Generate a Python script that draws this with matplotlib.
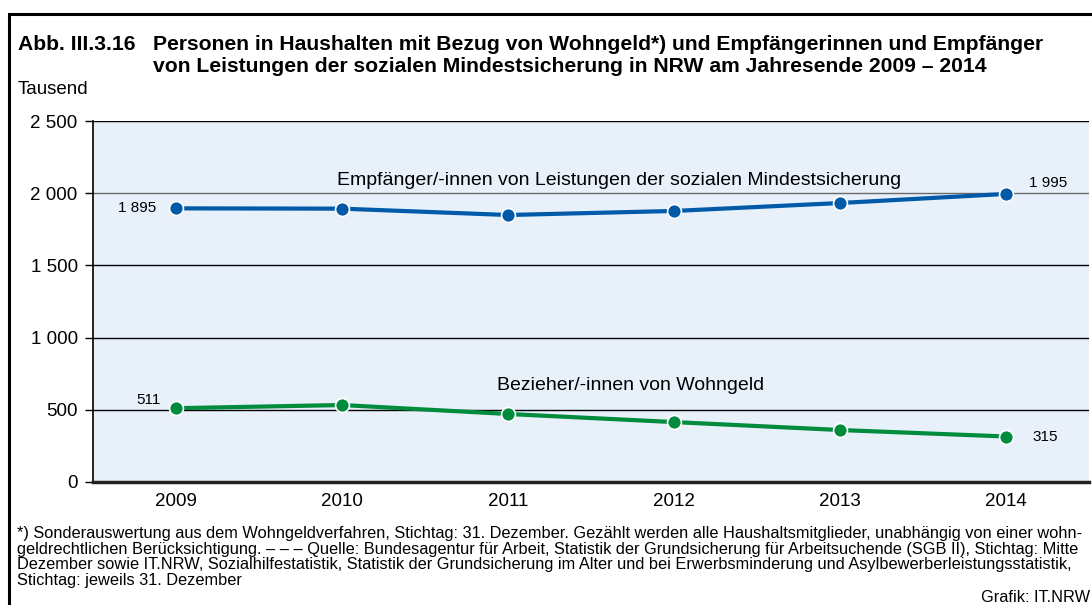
import numpy as np
import matplotlib.pyplot as plt
from matplotlib.patches import Rectangle

plt.rcParams['font.family'] = ['Liberation Sans', 'DejaVu Sans']

jahre = ['2009', '2010', '2011', '2012', '2013', '2014']
mindestsicherung = [1895, 1893, 1849, 1877, 1932, 1995]
wohngeld = [511, 533, 471, 415, 360, 315]
yticks = [0, 500, 1000, 1500, 2000, 2500]
ytick_labels = ['0', '500', '1 000', '1 500', '2 000', '2 500']

blau = '#005aa8'
gruen = '#008c3c'

fig = plt.figure(figsize=(10.92, 6.05), dpi=100)

# outer frame of the figure box
fig.patches.append(Rectangle((9 / 1092, -0.1), 1.2, 1 - 14 / 605 + 0.1,
                             transform=fig.transFigure, fill=False,
                             edgecolor='black', linewidth=2.2))

ax = fig.add_axes([93 / 1092, 1 - 482 / 605, 996 / 1092, 361 / 605])
ax.set_facecolor('#e8f0fa')
x = np.arange(len(jahre))

for y in yticks[1:]:
    col = '#6b6b6b' if y == 2000 else 'black'
    ax.axhline(y, color=col, lw=1.0, zorder=1)

ax.plot(x, mindestsicherung, color=blau, lw=3, marker='o', ms=10,
        markeredgecolor='white', markeredgewidth=1.2, zorder=3)
ax.plot(x, wohngeld, color=gruen, lw=3, marker='o', ms=10,
        markeredgecolor='white', markeredgewidth=1.2, zorder=3)

ax.set_xlim(-0.5, 5.5)
ax.set_ylim(0, 2500)
ax.set_yticks(yticks)
ax.set_yticklabels(ytick_labels, fontsize=13.5)
ax.set_xticks(x)
ax.set_xticklabels(jahre, fontsize=13.5)
ax.tick_params(axis='x', length=0, pad=8)
ax.tick_params(axis='y', length=6, width=1, pad=5, direction='out')
for s in ['top', 'right']:
    ax.spines[s].set_visible(False)
ax.spines['left'].set_linewidth(1.2)
ax.spines['bottom'].set_linewidth(2.5)
ax.spines['bottom'].set_color('#222222')

# value labels at first and last year
ax.text(-0.12, mindestsicherung[0], '1 895', ha='right', va='center', fontsize=11)
ax.text(5.14, mindestsicherung[-1] + 76, '1 995', ha='left', va='center', fontsize=11)
ax.text(-0.09, wohngeld[0] + 57, '511', ha='right', va='center', fontsize=11)
ax.text(5.16, wohngeld[-1], '315', ha='left', va='center', fontsize=11)

ax.text(2.67, 2091, 'Empfänger/-innen von Leistungen der sozialen Mindestsicherung',
        ha='center', va='center', fontsize=14)
ax.text(2.74, 665, 'Bezieher/-innen von Wohngeld', ha='center', va='center', fontsize=14)

fig.text(18 / 1092, 1 - 45 / 605, 'Abb. III.3.16', fontsize=15.2, fontweight='bold',
         va='center')
fig.text(153 / 1092, 1 - 45 / 605,
         'Personen in Haushalten mit Bezug von Wohngeld*) und Empfängerinnen und Empfänger',
         fontsize=15.2, fontweight='bold', va='center')
fig.text(153 / 1092, 1 - 67 / 605,
         'von Leistungen der sozialen Mindestsicherung in NRW am Jahresende 2009 – 2014',
         fontsize=15.2, fontweight='bold', va='center')
fig.text(18 / 1092, 1 - 90 / 605, 'Tausend', fontsize=13.5, va='center')

fussnote = ('*) Sonderauswertung aus dem Wohngeldverfahren, Stichtag: 31. Dezember. '
            'Gezählt werden alle Haushaltsmitglieder, unabhängig von einer wohn-\n'
            'geldrechtlichen Berücksichtigung. – – – Quelle: Bundesagentur für Arbeit, '
            'Statistik der Grundsicherung für Arbeitsuchende (SGB II), Stichtag: Mitte\n'
            'Dezember sowie IT.NRW, Sozialhilfestatistik, Statistik der Grundsicherung '
            'im Alter und bei Erwerbsminderung und Asylbewerberleistungsstatistik,\n'
            'Stichtag: jeweils 31. Dezember')
fig.text(17 / 1092, 1 - 526 / 605, fussnote, fontsize=11.8, va='top', linespacing=1.06)
fig.text(1090 / 1092, 1 - 597 / 605, 'Grafik: IT.NRW', fontsize=11.8, ha='right',
         va='center')

fig.savefig('out.png', dpi=100)
